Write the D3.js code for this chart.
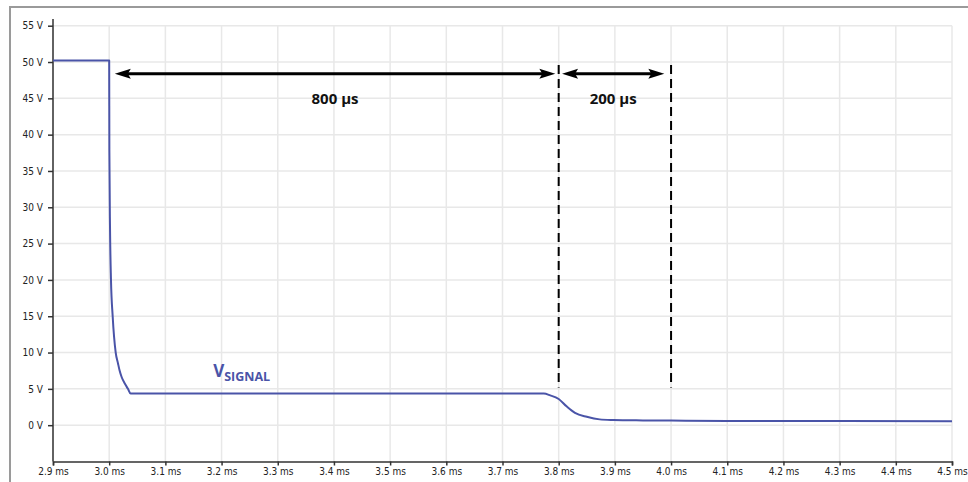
<!DOCTYPE html>
<html>
<head>
<meta charset="utf-8">
<script src="https://cdn.jsdelivr.net/npm/d3@7"></script>
<style>
  html, body { margin: 0; padding: 0; background: #fff; }
  svg { display: block; }
  .tick text { font-family: "Liberation Sans Narrow", "Arial Narrow", "DejaVu Sans Condensed", sans-serif; font-size: 10px; fill: #222; }
</style>
</head>
<body>
<svg id="chart" width="968" height="482"></svg>
<script>
// ---- data ----
const timeMs = [2.9, 3.0, 3.0003, 3.0015, 3.0032, 3.0062, 3.0116, 3.0157, 3.0183, 3.0223, 3.028, 3.0334, 3.0382,
                3.7735, 3.785, 3.8, 3.814, 3.829, 3.85, 3.873, 3.897, 3.95, 4.0, 4.1, 4.5];
const signalV = [50.2, 50.2, 38, 27, 20, 15, 10, 8.5, 7.6, 6.6, 5.7, 5.0, 4.35,
                 4.35, 4.1, 3.6, 2.6, 1.7, 1.15, 0.8, 0.72, 0.66, 0.63, 0.58, 0.55];
const xTicks = [2.9, 3.0, 3.1, 3.2, 3.3, 3.4, 3.5, 3.6, 3.7, 3.8, 3.9, 4.0, 4.1, 4.2, 4.3, 4.4, 4.5];
const yTicks = [0, 5, 10, 15, 20, 25, 30, 35, 40, 45, 50, 55];
const arrowStart = [3.01, 3.806];
const arrowEnd = [3.794, 3.988];
const arrowLevel = [48.4, 48.4];
const arrowLabels = ["800 µs", "200 µs"];
const labelLevel = [45, 45];
const markerTimes = [3.8, 4.0];
const markerTop = 49.6;
const markerBottom = 5.2;
const seriesLabel = { main: "V", sub: "SIGNAL", t: 3.185, v: 6.7 };

// ---- layout ----
const svg = d3.select("#chart");
const x = d3.scaleLinear().domain([2.9, 4.5]).range([53, 952]);
const y = d3.scaleLinear().domain([-5, 55]).range([461.5, 25.7]);
const lineColor = "#4a54a8";

// outer frame
svg.append("rect").attr("x", 10).attr("y", 7).attr("width", 970).attr("height", 490)
  .attr("fill", "none").attr("stroke", "#9a9a9a").attr("stroke-width", 2);

// grid
const grid = svg.append("g").attr("stroke", "#e8e8e8").attr("stroke-width", 1.5);
grid.selectAll(".vg").data(xTicks).join("line")
  .attr("x1", d => x(d)).attr("x2", d => x(d)).attr("y1", y(55)).attr("y2", y(-5));
grid.selectAll(".hg").data(yTicks).join("line")
  .attr("x1", x(2.9)).attr("x2", x(4.5)).attr("y1", d => y(d)).attr("y2", d => y(d));

// axes
const xAxis = svg.append("g").attr("transform", `translate(0,${y(-5)})`)
  .call(d3.axisBottom(x).tickValues(xTicks).tickSize(4).tickPadding(2).tickFormat(d => d3.format(".1f")(d) + " ms"));
xAxis.select(".domain").attr("stroke", "#333").attr("stroke-width", 1.5);
xAxis.selectAll(".tick line").attr("stroke", "#333").attr("stroke-width", 1.5);

const yAxis = svg.append("g").attr("transform", `translate(${x(2.9)},0)`)
  .call(d3.axisLeft(y).tickValues(yTicks).tickSize(5).tickPadding(5).tickFormat(d => d + " V"));
yAxis.select(".domain").remove();
yAxis.append("line").attr("x1", 0).attr("x2", 0).attr("y1", 19).attr("y2", y(-5))
  .attr("stroke", "#333").attr("stroke-width", 1.5);
yAxis.selectAll(".tick line").attr("stroke", "#333").attr("stroke-width", 1.5);

// signal line
const pts = timeMs.map((t, i) => [t, signalV[i]]);
svg.append("path").datum(pts)
  .attr("d", d3.line().x(d => x(d[0])).y(d => y(d[1])).curve(d3.curveMonotoneX))
  .attr("fill", "none").attr("stroke", lineColor).attr("stroke-width", 2)
  .attr("stroke-linejoin", "round");

// dashed markers
svg.selectAll(".marker").data(markerTimes).join("line")
  .attr("x1", d => x(d)).attr("x2", d => x(d))
  .attr("y1", y(markerTop)).attr("y2", y(markerBottom))
  .attr("stroke", "#000").attr("stroke-width", 2).attr("stroke-dasharray", "9,5");

// arrows
function head(tipX, yy, dir) {
  const L = 16, H = 5, back = 3;
  return `M${tipX},${yy} L${tipX + dir * L},${yy - H} L${tipX + dir * (L - back)},${yy} L${tipX + dir * L},${yy + H} Z`;
}
arrowStart.forEach((s, i) => {
  const x0 = x(s), x1 = x(arrowEnd[i]), yy = y(arrowLevel[i]);
  svg.append("line").attr("x1", x0 + 10).attr("x2", x1 - 10).attr("y1", yy).attr("y2", yy)
    .attr("stroke", "#000").attr("stroke-width", 3);
  svg.append("path").attr("d", head(x0, yy, 1)).attr("fill", "#000");
  svg.append("path").attr("d", head(x1, yy, -1)).attr("fill", "#000");
  svg.append("text").attr("x", (x0 + x1) / 2).attr("y", y(labelLevel[i]))
    .attr("dy", "0.35em").attr("text-anchor", "middle")
    .attr("font-family", "'Open Sans', sans-serif").attr("font-weight", "bold")
    .attr("font-size", 15).attr("fill", "#111").text(arrowLabels[i]);
});

// series label
const lab = svg.append("text").attr("x", x(seriesLabel.t)).attr("y", y(seriesLabel.v))
  .attr("font-family", "'Open Sans', sans-serif").attr("font-weight", "bold").attr("fill", lineColor);
lab.append("tspan").attr("font-size", 17).text(seriesLabel.main);
lab.append("tspan").attr("font-size", 12.5).attr("dy", 4).text(seriesLabel.sub);
</script>
</body>
</html>
